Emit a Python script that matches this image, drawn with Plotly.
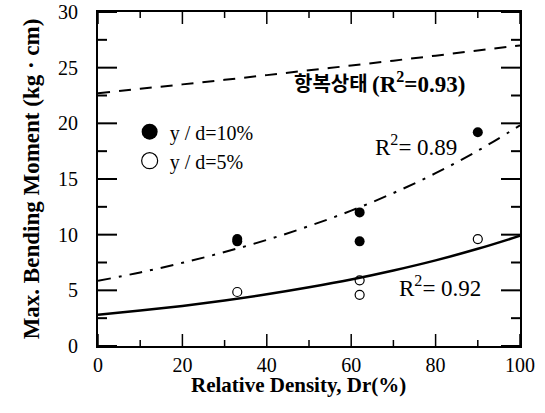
import plotly.graph_objects as go

# Measured points
x10 = [33, 33, 62, 62, 90]
y10 = [9.6, 9.4, 12.0, 9.4, 19.2]
x5 = [33, 62, 62, 90]
y5 = [4.85, 5.9, 4.6, 9.6]

# Fitted curves
xc = [0, 10, 20, 30, 40, 50, 60, 70, 80, 90, 100]
y_yield = [22.70, 23.10, 23.50, 23.91, 24.33, 24.76, 25.19, 25.63, 26.08, 26.54, 27.00]
y_fit10 = [5.85, 6.61, 7.47, 8.44, 9.53, 10.77, 12.16, 13.74, 15.52, 17.54, 19.82]
y_fit5 = [2.80, 3.18, 3.60, 4.09, 4.64, 5.27, 5.97, 6.78, 7.69, 8.73, 9.90]

# Axis ticks
xticks_major = [0, 20, 40, 60, 80, 100]
xticks_minor = [10, 30, 50, 70, 90]
yticks_major = [0, 5, 10, 15, 20, 25, 30]
yticks_minor = [2.5, 7.5, 12.5, 17.5, 22.5, 27.5]

SERIF = "Liberation Serif, Times New Roman, serif"
W, H = 545, 413
ML, MR, MT, MB = 98, 25, 12, 67
XR, YR = [0, 100], [0, 30]
ux = (XR[1] - XR[0]) / (W - ML - MR)   # data units per pixel
uy = (YR[1] - YR[0]) / (H - MT - MB)

fig = go.Figure()

# inward tick marks drawn through the data scales
def tick_trace(vals, length_px, width, axis):
    xs, ys = [], []
    for v in vals:
        if axis == "x":
            L = length_px * uy
            xs += [v, v, None, v, v, None]
            ys += [YR[0], YR[0] + L, None, YR[1] - L, YR[1], None]
        else:
            L = length_px * ux
            ys += [v, v, None, v, v, None]
            xs += [XR[0], XR[0] + L, None, XR[1] - L, XR[1], None]
    fig.add_trace(go.Scatter(x=xs, y=ys, mode="lines", line=dict(color="black", width=width),
                             showlegend=False, hoverinfo="skip", cliponaxis=False))

tick_trace(xticks_major, 12, 1.5, "x")
tick_trace(xticks_minor, 6, 1.5, "x")
tick_trace(yticks_major, 19, 2, "y")
tick_trace(yticks_minor, 9, 2, "y")

fig.add_trace(go.Scatter(x=xc, y=y_yield, mode="lines", line=dict(color="black", width=2, dash="12px,9px", shape="spline"), showlegend=False))
fig.add_trace(go.Scatter(x=xc, y=y_fit10, mode="lines", line=dict(color="black", width=2, dash="13px,8px,3px,8px", shape="spline"), showlegend=False))
fig.add_trace(go.Scatter(x=xc, y=y_fit5, mode="lines", line=dict(color="black", width=2.5, shape="spline"), showlegend=False))
fig.add_trace(go.Scatter(x=x10, y=y10, mode="markers", showlegend=False,
                         marker=dict(symbol="circle", size=10, color="black")))
fig.add_trace(go.Scatter(x=x5, y=y5, mode="markers", showlegend=False,
                         marker=dict(symbol="circle-open", size=9, color="black", line=dict(width=1.2))))
# legend entries (bigger symbols, as in the original key)
fig.add_trace(go.Scatter(x=[None], y=[None], mode="markers", name="y / d=10%",
                         marker=dict(symbol="circle", size=18, color="black")))
fig.add_trace(go.Scatter(x=[None], y=[None], mode="markers", name="y / d=5%",
                         marker=dict(symbol="circle-open", size=16, color="black", line=dict(width=1.2))))

fig.add_annotation(x=64.5, y=23.7, xanchor="right", text="<b>항복상태</b>", showarrow=False,
                   font=dict(family="Noto Sans CJK KR", size=20, color="black"))
fig.add_annotation(x=64.5, y=23.7, xanchor="left", text="<b>(R<sup>2</sup>=0.93)</b>", showarrow=False,
                   font=dict(family=SERIF, size=23, color="black"))
fig.add_annotation(x=65.2, y=18.0, xanchor="left", text="R<sup>2</sup>= 0.89", showarrow=False,
                   font=dict(family=SERIF, size=23, color="black"))
fig.add_annotation(x=70.9, y=5.3, xanchor="left", text="R<sup>2</sup>= 0.92", showarrow=False,
                   font=dict(family=SERIF, size=23, color="black"))
fig.add_annotation(xref="paper", yref="paper", x=0.474, y=-0.117, yanchor="middle",
                   text="<b>Relative Density, Dr(%)</b>",
                   showarrow=False, font=dict(family=SERIF, size=21, color="black"))

fig.update_layout(
    width=W, height=H,
    margin=dict(l=ML, r=MR, t=MT, b=MB),
    paper_bgcolor="white", plot_bgcolor="white",
    font=dict(family=SERIF, color="black", size=20),
    legend=dict(x=0.075, y=0.70, xanchor="left", yanchor="top", bgcolor="rgba(0,0,0,0)",
                font=dict(family=SERIF, size=20, color="black"), itemsizing="trace"),
    xaxis=dict(range=XR, tickvals=xticks_major, ticks="", showline=True, linecolor="black",
               linewidth=2, mirror=True, showgrid=False, zeroline=False, automargin=False),
    yaxis=dict(range=YR, tickvals=yticks_major, ticks="", showline=True, linecolor="black",
               linewidth=2, mirror=True, showgrid=False, zeroline=False, ticklabelstandoff=14,
               automargin=False,
               title=dict(text="<b>Max. Bending Moment (kg · cm)</b>", font=dict(size=23), standoff=12)),
)

fig.write_html("out.html")
